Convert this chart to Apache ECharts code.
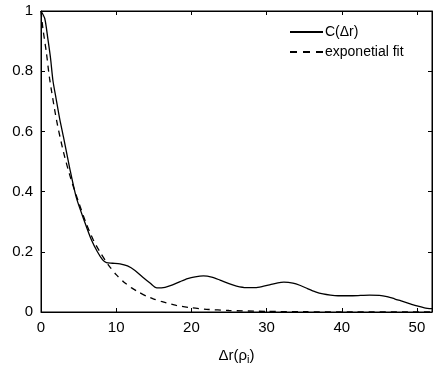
<!DOCTYPE html>
<html>
<head>
<meta charset="utf-8">
<script src="https://cdn.jsdelivr.net/npm/echarts@6/dist/echarts.min.js"></script>
<style>
  html, body { margin: 0; padding: 0; background: #fff; }
  #chart { width: 435px; height: 371px; }
</style>
</head>
<body>
<div id="chart"></div>
<script>
// C(Δr)
const corrX = [0, 0.5, 0.9, 1.27, 1.58, 2, 2.5, 3, 3.8, 4.7, 5.8, 6.7, 7.5, 8.2, 8.7, 9.5, 10.5, 11.5, 12.5, 13.5, 14.5, 15.4, 16.5, 17.5, 18.5, 19.5, 20.5, 21.6, 22.7, 23.8, 25, 26, 27.3, 28.5, 29.5, 30.5, 31.5, 32.3, 33.5, 34.5, 35.5, 36.5, 37.5, 38.5, 39.5, 41, 42.5, 43.7, 45, 46, 47, 48, 49, 50, 51, 52];
const corrY = [1.0, 0.975, 0.91, 0.843, 0.77, 0.71, 0.64, 0.58, 0.48, 0.38, 0.300, 0.240, 0.200, 0.173, 0.164, 0.162, 0.160, 0.153, 0.138, 0.116, 0.096, 0.080, 0.082, 0.090, 0.101, 0.111, 0.117, 0.120, 0.116, 0.106, 0.094, 0.086, 0.081, 0.081, 0.085, 0.091, 0.097, 0.099, 0.096, 0.088, 0.077, 0.067, 0.060, 0.056, 0.054, 0.054, 0.055, 0.056, 0.055, 0.051, 0.044, 0.036, 0.028, 0.020, 0.014, 0.011];

// exponential fit
const fitX = [0, 0.26, 0.7, 1.14, 2.06, 3, 4, 5, 6, 7, 8, 9, 10, 11, 12, 13, 14, 15, 16, 18, 20, 22, 25, 30, 35, 40, 52];
const fitY = [1.0, 0.94, 0.865, 0.776, 0.638, 0.53, 0.44, 0.365, 0.295, 0.237, 0.193, 0.155, 0.124, 0.100, 0.081, 0.066, 0.053, 0.043, 0.035, 0.022, 0.014, 0.009, 0.005, 0.002, 0.001, 0, 0];

const xTicks = [0, 10, 20, 30, 40, 50];
const yTicks = [0, 0.2, 0.4, 0.6, 0.8, 1];

const font = 'Liberation Sans, Arial, sans-serif';

const chart = echarts.init(document.getElementById('chart'));

const baseAxis = {
  axisLine: { show: true, onZero: false, lineStyle: { color: '#000', width: 1 } },
  axisTick: { show: true, inside: true, length: 4, lineStyle: { color: '#000' } },
  splitLine: { show: false }
};

chart.setOption({
  animation: false,
  grid: { left: 41, right: 1, top: 11, bottom: 59, show: true, borderColor: '#000', borderWidth: 1 },
  legend: {
    orient: 'vertical',
    left: 284,
    top: 20,
    itemWidth: 33,
    itemHeight: 10,
    itemGap: 6,
    itemStyle: { opacity: 0 },
    textStyle: { fontFamily: font, fontSize: 14, color: '#000', padding: [0, 0, 0, -3] },
    data: [
      { name: 'C(Δr)' },
      { name: 'exponetial fit', lineStyle: { type: [7, 6] } }
    ]
  },
  xAxis: [
    Object.assign({}, baseAxis, {
      type: 'value', min: 0, max: 52, interval: 10,
      axisLabel: { color: '#000', fontFamily: font, fontSize: 15, margin: 8,
        formatter: v => xTicks.includes(v) ? String(v) : '' },
      name: '{a|Δr(ρ}{b|i}{a|)}',
      nameLocation: 'middle',
      nameGap: 34,
      nameTextStyle: {
        rich: {
          a: { fontFamily: font, fontSize: 15, color: '#000' },
          b: { fontFamily: font, fontSize: 11, color: '#000', padding: [8, 0, 0, 0] }
        }
      }
    }),
    Object.assign({}, baseAxis, {
      type: 'value', min: 0, max: 52, interval: 10, position: 'top',
      axisLabel: { show: false }
    })
  ],
  yAxis: [
    Object.assign({}, baseAxis, {
      type: 'value', min: 0, max: 1, interval: 0.2,
      axisLabel: { color: '#000', fontFamily: font, fontSize: 15, margin: 8,
        formatter: v => {
          const t = yTicks.find(k => Math.abs(k - v) < 1e-9);
          return t === undefined ? '' : String(t);
        } }
    }),
    Object.assign({}, baseAxis, {
      type: 'value', min: 0, max: 1, interval: 0.2, position: 'right',
      axisLabel: { show: false }
    })
  ],
  series: [
    {
      name: 'C(Δr)',
      type: 'line',
      smooth: 0.25,
      symbol: 'none',
      lineStyle: { color: '#000', width: 1.3, type: 'solid' },
      itemStyle: { color: '#000' },
      data: corrX.map((x, i) => [x, corrY[i]])
    },
    {
      name: 'exponetial fit',
      type: 'line',
      smooth: 0.25,
      symbol: 'none',
      lineStyle: { color: '#000', width: 1.3, type: [6, 5] },
      itemStyle: { color: '#000' },
      data: fitX.map((x, i) => [x, fitY[i]])
    },
    // invisible series so the top and right axes carry mirrored ticks
    {
      type: 'line', xAxisIndex: 1, yAxisIndex: 1, symbol: 'none', silent: true,
      lineStyle: { opacity: 0 }, data: []
    }
  ]
});

window.addEventListener('resize', () => chart.resize());
</script>
</body>
</html>
